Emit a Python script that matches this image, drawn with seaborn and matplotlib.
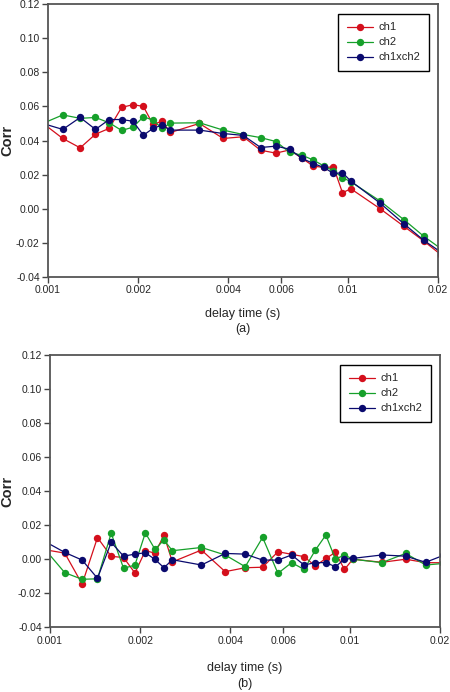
import numpy as np
import pandas as pd
import matplotlib
matplotlib.use("Agg")
import matplotlib.pyplot as plt
from matplotlib.ticker import FixedLocator, NullLocator
import seaborn as sns

# delay steps (multiples of 0.16 ms), first and last fall just outside the axis
steps = [6, 7, 8, 9, 10, 11, 12, 13, 14, 15, 16,
         20, 24, 28, 32, 36, 40, 44, 48, 52, 56, 60, 64,
         80, 96, 112, 128]
delay = [0.00016 * k for k in steps]

# panel (a)
a_ch1 = [0.0502, 0.0412, 0.0357, 0.0437, 0.0471, 0.0594, 0.0610, 0.0600, 0.0494, 0.0513, 0.0447,
         0.0500, 0.0412, 0.0422, 0.0343, 0.0326, 0.0345, 0.0295, 0.0250, 0.0242, 0.0245, 0.0094, 0.0117,
         0.0001, -0.0102, -0.0189, -0.0270]
a_ch2 = [0.0500, 0.0550, 0.0530, 0.0535, 0.0504, 0.0459, 0.0478, 0.0539, 0.0520, 0.0471, 0.0502,
         0.0504, 0.0461, 0.0435, 0.0417, 0.0394, 0.0330, 0.0314, 0.0285, 0.0251, 0.0222, 0.0183, 0.0158,
         0.0046, -0.0063, -0.0161, -0.0235]
a_ch12 = [0.0500, 0.0465, 0.0535, 0.0465, 0.0523, 0.0523, 0.0513, 0.0431, 0.0471, 0.0490, 0.0461,
          0.0461, 0.0441, 0.0430, 0.0359, 0.0367, 0.0349, 0.0295, 0.0265, 0.0242, 0.0207, 0.0211, 0.0162,
          0.0034, -0.0087, -0.0185, -0.0255]

# panel (b)
b_ch1 = [0.0056, 0.0036, -0.0146, 0.0127, 0.0017, 0.0010, -0.0081, 0.0050, 0.0036, 0.0141, -0.0016,
         0.0054, -0.0073, -0.0050, -0.0047, 0.0044, 0.0029, 0.0015, -0.0040, 0.0005, 0.0040, -0.0060, 0.0000,
         -0.0018, 0.0000, -0.0020, -0.0021]
b_ch2 = [0.0060, -0.0079, -0.0118, -0.0115, 0.0153, -0.0054, -0.0034, 0.0155, 0.0058, 0.0113, 0.0050,
         0.0069, 0.0025, -0.0044, 0.0128, -0.0083, -0.0020, -0.0060, 0.0054, 0.0142, 0.0000, 0.0025, 0.0000,
         -0.0020, 0.0034, -0.0034, -0.0025]
b_ch12 = [0.0105, 0.0040, -0.0005, -0.0112, 0.0099, 0.0018, 0.0030, 0.0038, -0.0001, -0.0050, -0.0003,
          -0.0034, 0.0034, 0.0030, -0.0005, -0.0005, 0.0025, -0.0034, -0.0020, -0.0020, -0.0044, 0.0000, 0.0005,
          0.0025, 0.0018, -0.0018, 0.0022]

series_names = ["ch1", "ch2", "ch1xch2"]
colors = ["#d40f1c", "#16a02a", "#0a0a6e"]

x_ticks = [0.001, 0.002, 0.004, 0.006, 0.01, 0.02]
x_labels = ["0.001", "0.002", "0.004", "0.006", "0.01", "0.02"]
y_ticks = [-0.04, -0.02, 0.0, 0.02, 0.04, 0.06, 0.08, 0.10, 0.12]
y_labels = ["-0.04", "-0.02", "0.00", "0.02", "0.04", "0.06", "0.08", "0.10", "0.12"]


def long_table(ch1, ch2, ch12):
    rows = []
    for name, vals in zip(series_names, [ch1, ch2, ch12]):
        rows.append(pd.DataFrame({"delay": delay, "corr": vals, "series": name}))
    return pd.concat(rows, ignore_index=True)


sns.set_style("ticks")
plt.rcParams["font.family"] = ["Liberation Sans", "DejaVu Sans"]

fig = plt.figure(figsize=(4.5, 6.92), dpi=100)
ax_a = fig.add_axes([0.1067, 0.5997, 0.8667, 0.3945])
ax_b = fig.add_axes([0.1111, 0.0935, 0.8667, 0.3935])

# axes, data, panel tag, x of the y label in axes units, xlabel pad
panels = [(ax_a, long_table(a_ch1, a_ch2, a_ch12), "(a)", -0.086, 9),
          (ax_b, long_table(b_ch1, b_ch2, b_ch12), "(b)", -0.092, 12)]

for ax, df, tag, ylab_x, xpad in panels:
    sns.lineplot(data=df, x="delay", y="corr", hue="series", hue_order=series_names,
                 palette=colors, estimator=None, sort=False, marker="o",
                 markersize=5.3, markeredgewidth=0, linewidth=0.9, ax=ax)
    ax.set_xscale("log")
    ax.set_xlim(0.001, 0.02)
    ax.set_ylim(-0.04, 0.12)
    ax.xaxis.set_major_locator(FixedLocator(x_ticks))
    ax.xaxis.set_minor_locator(NullLocator())
    ax.set_xticklabels(x_labels)
    ax.set_yticks(y_ticks)
    ax.set_yticklabels(y_labels)
    ax.tick_params(labelsize=7.5, length=4, width=1, color="#444444", pad=2)
    for s in ax.spines.values():
        s.set_visible(True)
        s.set_color("#555555")
        s.set_linewidth(1.3)
    ax.set_xlabel("delay time (s)\n" + tag, fontsize=9, labelpad=xpad, linespacing=1.4)
    ax.set_ylabel("Corr", fontsize=10.5, fontweight="bold")
    ax.yaxis.set_label_coords(ylab_x, 0.5)
    ax.legend(loc="upper right", bbox_to_anchor=(0.977, 0.963), borderaxespad=0,
              fontsize=8, frameon=True, fancybox=False, edgecolor="black", framealpha=1,
              handlelength=2.4, handletextpad=0.5, borderpad=0.75, labelspacing=0.45)
    ax.get_legend().get_frame().set_linewidth(1.0)

fig.savefig("out.png", dpi=100)
